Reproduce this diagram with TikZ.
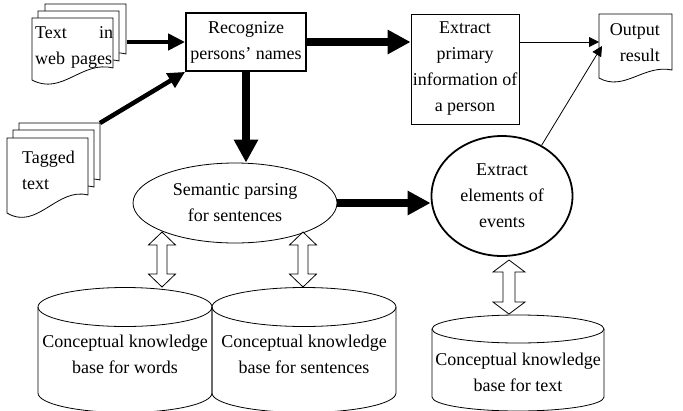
\documentclass[tikz,border=0pt]{standalone}
\usepackage{fontspec}
\setmainfont{Liberation Serif}
\usetikzlibrary{positioning, shapes.geometric, arrows.meta}

\tikzset{
  sheet/.style={draw, fill=white, line width=0.8pt},
  procbox/.style={draw, rectangle, line width=0.8pt, align=center, inner sep=0pt},
  boldbox/.style={procbox, line width=1.8pt},
  parseoval/.style={draw, ellipse, line width=0.8pt, align=center, inner sep=0pt},
  eventoval/.style={parseoval, line width=1.8pt},
  plaintext/.style={inner sep=0pt, align=center},
  thinarrow/.style={line width=0.8pt, -{Triangle[length=10pt, width=10pt]}},
  medarrow/.style={line width=4.5pt, -{Triangle[length=17pt, width=16pt]}},
  bigarrow/.style={line width=8.5pt, -{Triangle[length=23pt, width=23pt]}},
  dblarrow/.style={draw, fill=white, line width=0.8pt},
  kbase/.style={draw, line width=0.8pt}
}

\begin{document}
\begin{tikzpicture}[x=1pt, y=-1pt, font=\fontsize{18pt}{26pt}\selectfont]
        \useasboundingbox (0,0) rectangle (683,410);

        % text in web pages
        \begin{scope}
            \newcommand{\posx}{32}
            \newcommand{\posy}{18}

            \draw[sheet] (\posx+13,\posy-14) -- (\posx+94,\posy-14) -- (\posx+94,\posy+36) .. controls (\posx+63,\posy+28) and (\posx+43,\posy+64) .. (\posx+13,\posy+48) -- cycle;
            \draw[sheet] (\posx+6,\posy-7) -- (\posx+87,\posy-7) -- (\posx+87,\posy+43) .. controls (\posx+56,\posy+35) and (\posx+36,\posy+71) .. (\posx+6,\posy+55) -- cycle;
            \draw[sheet] (\posx,\posy) -- (\posx+81,\posy) -- (\posx+81,\posy+50) .. controls (\posx+50,\posy+42) and (\posx+30,\posy+78) .. (\posx,\posy+62) -- cycle;
            \node[plaintext, text width=78pt, align=left, anchor=west] (webtext) at (\posx+3,\posy+29.5) {Text\hfill in\\web pages};
            \coordinate (webdoc-e) at (\posx+95,\posy+24);
        \end{scope}

        % tagged text
        \begin{scope}
            \newcommand{\posx}{7}
            \newcommand{\posy}{138}

            \draw[sheet] (\posx+12,\posy-15) -- (\posx+93,\posy-15) -- (\posx+93,\posy+42) .. controls (\posx+62,\posy+34) and (\posx+42,\posy+78) .. (\posx+12,\posy+60) -- cycle;
            \draw[sheet] (\posx+6,\posy-8) -- (\posx+87,\posy-8) -- (\posx+87,\posy+49) .. controls (\posx+56,\posy+41) and (\posx+36,\posy+85) .. (\posx+6,\posy+67) -- cycle;
            \draw[sheet] (\posx,\posy) -- (\posx+81,\posy) -- (\posx+81,\posy+57) .. controls (\posx+50,\posy+49) and (\posx+30,\posy+93) .. (\posx,\posy+75) -- cycle;
            \node[plaintext, align=left, anchor=west] (tagtext) at (\posx+15,\posy+32) {Tagged\\text};
            \coordinate (tagdoc-ne) at (\posx+93,\posy-15);
        \end{scope}

        % output result
        \begin{scope}
            \newcommand{\posx}{599}
            \newcommand{\posy}{14}

            \draw[sheet] (\posx,\posy) -- (\posx+73,\posy) -- (\posx+73,\posy+56) .. controls (\posx+45,\posy+50) and (\posx+25,\posy+78) .. (\posx,\posy+64) -- cycle;
            \node[plaintext, align=right, anchor=east] (outtext) at (\posx+61,\posy+29) {Output\\result};
            \coordinate (outdoc-w) at (\posx,\posy+28);
            \coordinate (outdoc-sw) at (\posx+3,\posy+32);
        \end{scope}

        \node[boldbox, minimum width=120pt, minimum height=58pt] (recog) at (246,42) {Recognize\\persons’ names};
        \node[procbox, minimum width=108pt, minimum height=110pt] (primary) at (465,69) {Extract\\primary\\information of\\a person};
        \node[parseoval, minimum width=204pt, minimum height=80pt] (parse) at (235,203) {Semantic parsing\\for sentences};
        \node[eventoval, minimum width=141pt, minimum height=120pt] (events) at (502,196) {Extract\\elements of\\events};

        \draw[medarrow] (webdoc-e) -- (recog.west);
        \draw[medarrow] (tagdoc-ne) -- (recog.south west);
        \draw[bigarrow] (recog.east) -- (recog.east -| primary.west);
        \draw[thinarrow] (primary.east |- outdoc-w) -- (outdoc-w);
        \draw[bigarrow] (recog.south) -- (recog.south |- parse.north);
        \draw[bigarrow] (parse.east) -- (parse.east -| events.west);
        \draw[thinarrow] (events.52) -- (outdoc-sw);

        % knowledge bases
        \begin{scope}
            \newcommand{\posx}{125}
            \newcommand{\posy}{307}
            \newcommand{\radx}{87}
            \newcommand{\rady}{19.5}
            \newcommand{\hgt}{86}

            \draw[kbase] (\posx-\radx,\posy) -- (\posx-\radx,\posy+\hgt) arc[start angle=180, end angle=360, x radius=\radx pt, y radius=\rady pt] -- (\posx+\radx,\posy);
            \draw[kbase] (\posx,\posy) ellipse [x radius=\radx pt, y radius=\rady pt];
            \node[plaintext] (kbwords) at (\posx,354) {Conceptual knowledge\\base for words};
        \end{scope}

        \begin{scope}
            \newcommand{\posx}{304}
            \newcommand{\posy}{307}
            \newcommand{\radx}{92}
            \newcommand{\rady}{19.5}
            \newcommand{\hgt}{86}

            \draw[kbase] (\posx-\radx,\posy) -- (\posx-\radx,\posy+\hgt) arc[start angle=180, end angle=360, x radius=\radx pt, y radius=\rady pt] -- (\posx+\radx,\posy);
            \draw[kbase] (\posx,\posy) ellipse [x radius=\radx pt, y radius=\rady pt];
            \node[plaintext] (kbsent) at (\posx,354) {Conceptual knowledge\\base for sentences};
        \end{scope}

        \begin{scope}
            \newcommand{\posx}{518}
            \newcommand{\posy}{329}
            \newcommand{\radx}{86}
            \newcommand{\rady}{14}
            \newcommand{\hgt}{68}

            \draw[kbase] (\posx-\radx,\posy) -- (\posx-\radx,\posy+\hgt) arc[start angle=180, end angle=360, x radius=\radx pt, y radius=\rady pt] -- (\posx+\radx,\posy);
            \draw[kbase] (\posx,\posy) ellipse [x radius=\radx pt, y radius=\rady pt];
            \node[plaintext] (kbtext) at (\posx,372) {Conceptual knowledge\\base for text};
        \end{scope}

        % double arrows
        \begin{scope}
            \newcommand{\posx}{162}
            \newcommand{\postop}{232}
            \newcommand{\posbot}{287}

            \draw[dblarrow] (\posx,\postop) -- (\posx+13.5,\postop+13) -- (\posx+5,\postop+13) -- (\posx+5,\posbot-13) -- (\posx+13.5,\posbot-13) -- (\posx,\posbot) -- (\posx-13.5,\posbot-13) -- (\posx-5,\posbot-13) -- (\posx-5,\postop+13) -- (\posx-13.5,\postop+13) -- cycle;
        \end{scope}

        \begin{scope}
            \newcommand{\posx}{303}
            \newcommand{\postop}{232}
            \newcommand{\posbot}{287}

            \draw[dblarrow] (\posx,\postop) -- (\posx+13.5,\postop+13) -- (\posx+5,\postop+13) -- (\posx+5,\posbot-13) -- (\posx+13.5,\posbot-13) -- (\posx,\posbot) -- (\posx-13.5,\posbot-13) -- (\posx-5,\posbot-13) -- (\posx-5,\postop+13) -- (\posx-13.5,\postop+13) -- cycle;
        \end{scope}

        \begin{scope}
            \newcommand{\posx}{509}
            \newcommand{\postop}{260}
            \newcommand{\posbot}{314}

            \draw[dblarrow] (\posx,\postop) -- (\posx+16,\postop+12) -- (\posx+6,\postop+12) -- (\posx+6,\posbot-12) -- (\posx+16,\posbot-12) -- (\posx,\posbot) -- (\posx-16,\posbot-12) -- (\posx-6,\posbot-12) -- (\posx-6,\postop+12) -- (\posx-16,\postop+12) -- cycle;
        \end{scope}
    \end{tikzpicture}
\end{document}
